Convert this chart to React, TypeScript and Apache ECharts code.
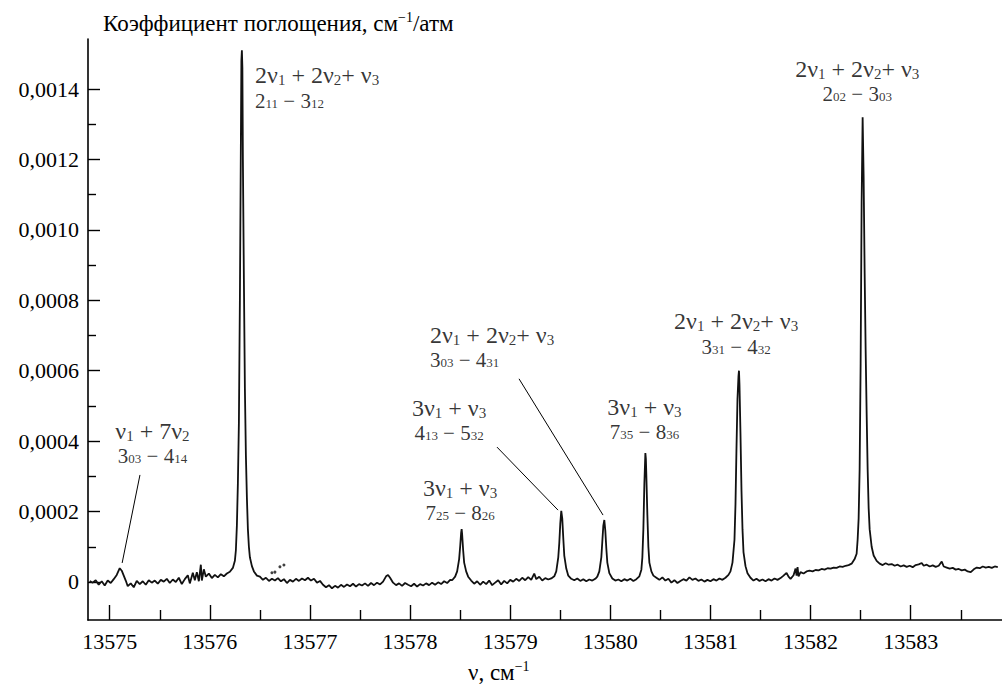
import React, { useEffect, useRef } from "react";
import * as echarts from "echarts";

// Absorption values are stored in units of 1e-5 (см⁻¹/атм); wavenumbers in см⁻¹.
const UNIT = 1e-5;

const segLeftBaseline: [number, number][] = [
  [13574.8, 0.3], [13574.83, -0.2], [13574.86, 0.5], [13574.89, -0.8], [13574.92, 0.2],
  [13574.95, -1.0], [13574.98, 0.4], [13575.01, -0.3], [13575.04, 0.8], [13575.07, 2.0],
  [13575.1, 3.9], [13575.12, 3.2], [13575.14, 1.8], [13575.16, 0.4], [13575.18, -1.2],
  [13575.21, -0.4], [13575.24, -1.5], [13575.27, 0.3], [13575.3, -0.6], [13575.33, 0.2],
  [13575.36, -0.8], [13575.39, 0.5], [13575.42, -0.2], [13575.45, 0.4], [13575.48, -0.5],
  [13575.51, 0.6], [13575.54, 0.1], [13575.57, 0.9], [13575.6, -0.3], [13575.63, 0.7],
  [13575.66, 0.0], [13575.69, 1.2], [13575.72, -0.6], [13575.75, 0.8], [13575.78, 1.9],
  [13575.8, -0.4], [13575.83, 2.6], [13575.85, 0.5], [13575.87, 2.8], [13575.89, 0.2],
  [13575.91, 4.9], [13575.92, 0.4], [13575.94, 3.6], [13575.96, 1.5], [13575.99, 2.4],
  [13576.02, 1.1], [13576.05, 2.0], [13576.08, 1.3], [13576.11, 2.2], [13576.14, 1.6],
  [13576.17, 2.4], [13576.2, 2.9],
];

const segPeak13576: [number, number][] = [
  [13576.23, 4], [13576.25, 6], [13576.26, 9], [13576.27, 16], [13576.28, 28],
  [13576.29, 45], [13576.3, 80], [13576.31, 125], [13576.315, 148], [13576.32, 151],
  [13576.325, 146], [13576.33, 120], [13576.34, 86], [13576.35, 55], [13576.36, 36],
  [13576.37, 24], [13576.38, 15], [13576.39, 10], [13576.4, 7], [13576.42, 4.5],
  [13576.44, 3], [13576.47, 1.8],
];

const segMiddleBaseline: [number, number][] = [
  [13576.5, 1.5], [13576.53, 0.6], [13576.56, 1.2], [13576.59, 0.3], [13576.62, 0.9],
  [13576.65, 0.4], [13576.68, 1.1], [13576.71, 0.2], [13576.74, 0.8], [13576.77, -0.3],
  [13576.8, 0.6], [13576.83, 0.1], [13576.86, 0.9], [13576.89, 0.3], [13576.92, 1.0],
  [13576.95, 0.5], [13576.98, 1.2], [13577.01, 0.4], [13577.04, 0.9], [13577.07, -0.2],
  [13577.1, 0.3], [13577.13, -0.8], [13577.16, -1.5], [13577.19, -0.9], [13577.22, -1.8],
  [13577.25, -1.1], [13577.28, -1.6], [13577.31, -0.8], [13577.34, -1.4], [13577.37, -0.7],
  [13577.4, -1.2], [13577.43, -0.5], [13577.46, -1.3], [13577.49, -0.6], [13577.52, -1.0],
  [13577.55, -0.4], [13577.58, -1.1], [13577.61, -0.3], [13577.64, -0.9], [13577.67, -0.2],
  [13577.7, -0.7], [13577.73, 0.1], [13577.76, 1.6], [13577.78, 2.0], [13577.8, 1.2],
  [13577.83, -0.2], [13577.86, -0.9], [13577.89, -0.4], [13577.92, -1.1], [13577.95, -0.3],
  [13577.98, -0.8], [13578.01, -1.2], [13578.04, -0.5], [13578.07, -1.3], [13578.1, -0.6],
  [13578.13, -1.0], [13578.16, -0.4], [13578.19, -0.9], [13578.22, -0.2], [13578.25, -0.8],
  [13578.28, -0.1], [13578.31, -0.6], [13578.34, 0.2], [13578.37, -0.3], [13578.4, 0.6],
];

const segPeak13578: [number, number][] = [
  [13578.42, 0.5], [13578.45, 1.5], [13578.47, 3], [13578.49, 6.5], [13578.5, 10],
  [13578.51, 14], [13578.515, 15], [13578.52, 13.5], [13578.53, 9], [13578.54, 5.5],
  [13578.56, 3], [13578.58, 1.5], [13578.61, 0.4], [13578.64, -0.5],
];

const segBaseline13579: [number, number][] = [
  [13578.67, 0.2], [13578.7, -0.8], [13578.73, 0.1], [13578.76, -0.6], [13578.79, 0.4],
  [13578.82, -0.9], [13578.85, -0.2], [13578.88, 0.5], [13578.91, -0.7], [13578.94, 0.3],
  [13578.97, -0.4], [13579.0, 0.6], [13579.03, 0.1], [13579.06, 0.9], [13579.09, 0.3],
  [13579.12, 1.2], [13579.15, 0.5], [13579.18, 1.4], [13579.21, 0.6], [13579.24, 2.4],
  [13579.26, 0.8], [13579.29, 1.5], [13579.32, 0.4], [13579.35, 1.1], [13579.38, 0.7],
  [13579.41, 1.0], [13579.44, 1.6],
];

const segPeaks13579_13580: [number, number][] = [
  [13579.46, 3], [13579.48, 7], [13579.49, 11], [13579.5, 16.5], [13579.51, 20.2],
  [13579.52, 18], [13579.53, 12.5], [13579.54, 7.5], [13579.56, 3.8], [13579.58, 1.8],
  [13579.61, 0.9], [13579.64, 0.5], [13579.67, 1.0], [13579.7, 0.3], [13579.73, 0.8],
  [13579.76, 0.2], [13579.79, 0.7], [13579.82, 0.4], [13579.85, 0.9], [13579.87, 1.5],
  [13579.89, 3], [13579.91, 7], [13579.92, 11.5], [13579.93, 16], [13579.94, 17.6],
  [13579.95, 14.5], [13579.96, 9.5], [13579.97, 5.5], [13579.99, 2.5], [13580.02, 1.0],
  [13580.05, 0.4], [13580.08, 0.7], [13580.11, 0.2], [13580.14, 0.8], [13580.17, 0.4],
  [13580.2, 0.9], [13580.23, 0.3], [13580.26, 0.8], [13580.29, 1.6],
  [13580.31, 3.5], [13580.32, 7], [13580.33, 15], [13580.34, 28], [13580.35, 36.6],
  [13580.355, 35], [13580.36, 30], [13580.37, 19], [13580.38, 10], [13580.39, 5.5],
  [13580.41, 3], [13580.43, 1.8], [13580.46, 1.2],
];

const segBaseline13581: [number, number][] = [
  [13580.49, 0.6], [13580.52, 1.3], [13580.55, 0.4], [13580.58, 0.9], [13580.61, -0.2],
  [13580.64, 0.5], [13580.67, -0.3], [13580.7, 0.3], [13580.73, 0.8], [13580.76, 0.4],
  [13580.79, 1.3], [13580.82, 0.6], [13580.85, 1.0], [13580.88, 0.3], [13580.91, 0.7],
  [13580.94, 0.1], [13580.97, 0.6], [13581.0, 0.2], [13581.03, 0.8], [13581.06, 0.4],
  [13581.09, 1.0], [13581.12, 0.6], [13581.15, 1.2], [13581.18, 2.0],
];

const segPeak13581: [number, number][] = [
  [13581.2, 3], [13581.22, 5.5], [13581.24, 12], [13581.25, 22], [13581.26, 38],
  [13581.27, 52], [13581.28, 58.5], [13581.285, 60], [13581.29, 56], [13581.3, 42],
  [13581.31, 26], [13581.32, 15], [13581.33, 8.5], [13581.35, 4.5], [13581.37, 2.5],
  [13581.4, 1.2],
];

const segBaseline13582: [number, number][] = [
  [13581.43, 0.4], [13581.46, 0.9], [13581.49, 0.3], [13581.52, 0.7], [13581.55, 0.2],
  [13581.58, 0.8], [13581.61, 0.4], [13581.64, 1.0], [13581.67, 0.6], [13581.7, 1.1],
  [13581.73, 1.8], [13581.76, 2.6], [13581.78, 1.5], [13581.8, 0.9], [13581.83, 1.9],
  [13581.85, 3.8], [13581.86, 1.8], [13581.87, 4.2], [13581.88, 1.6], [13581.9, 2.8],
  [13581.93, 2.4], [13581.96, 3.0], [13581.99, 3.2], [13582.02, 3.0], [13582.05, 3.4],
  [13582.08, 3.3], [13582.11, 3.7], [13582.14, 3.5], [13582.17, 3.9], [13582.2, 3.8],
  [13582.23, 4.1], [13582.26, 4.0], [13582.29, 4.4], [13582.32, 4.3], [13582.35, 4.6],
  [13582.38, 4.8], [13582.41, 5.2], [13582.44, 6.5],
];

const segPeak13582: [number, number][] = [
  [13582.46, 8], [13582.47, 12], [13582.48, 18], [13582.49, 32], [13582.5, 62],
  [13582.51, 108], [13582.52, 132], [13582.53, 115], [13582.54, 88], [13582.55, 66],
  [13582.56, 48], [13582.57, 32], [13582.58, 21], [13582.59, 15], [13582.61, 10],
  [13582.63, 7.5], [13582.66, 6],
];

const segRightBaseline: [number, number][] = [
  [13582.69, 5.2], [13582.72, 4.8], [13582.75, 5.3], [13582.78, 4.9], [13582.81, 5.1],
  [13582.84, 4.6], [13582.87, 4.9], [13582.9, 4.4], [13582.93, 4.7], [13582.96, 4.3],
  [13582.99, 4.6], [13583.02, 4.2], [13583.05, 4.8], [13583.08, 5.0], [13583.11, 5.4],
  [13583.13, 4.6], [13583.16, 4.9], [13583.19, 4.4], [13583.22, 4.7], [13583.25, 4.3],
  [13583.28, 4.6], [13583.31, 5.8], [13583.33, 4.4], [13583.36, 4.1], [13583.39, 3.8],
  [13583.42, 4.0], [13583.45, 3.5], [13583.48, 3.7], [13583.51, 3.3], [13583.54, 3.5],
  [13583.57, 3.0], [13583.6, 2.8], [13583.63, 3.6], [13583.66, 4.1], [13583.69, 3.9],
  [13583.72, 4.4], [13583.75, 4.1], [13583.78, 4.3], [13583.81, 4.0], [13583.84, 4.4],
  [13583.87, 4.2],
];

// isolated recorder dots after the strong line
const strayDots: [number, number][] = [
  [13576.62, 2.6], [13576.65, 2.8], [13576.7, 4.3], [13576.74, 4.8],
];

// axis ticks
const xMajorTicks = [13575, 13576, 13577, 13578, 13579, 13580, 13581, 13582, 13583];
const xMinorTicks = [13575.5, 13576.5, 13577.5, 13578.5, 13579.5, 13580.5, 13581.5, 13582.5, 13583.5];
const yMajorTicks = [0, 0.0002, 0.0004, 0.0006, 0.0008, 0.001, 0.0012, 0.0014];
const yMinorTicks = [0.0001, 0.0003, 0.0005, 0.0007, 0.0009, 0.0011, 0.0013];

const X_MIN = 13574.783;
const X_MAX = 13583.912;
const Y_MIN = -0.000108;
const Y_MAX = 0.001542;

// line assignments: anchor [ν, value×1e-5], alignment, band, transition
const labelAnchors: [number, number][] = [
  [13575.427, 39.5], [13576.452, 140.5], [13578.499, 23.3], [13578.389, 46.0],
  [13578.199, 66.8], [13580.341, 46.3], [13581.256, 70.6], [13582.466, 142.4],
];
const labelAlign = ["center", "left", "center", "center", "left", "center", "center", "center"];
const bandParts: [string, string][][] = [
  [["ν", "1"], [" + 7ν", "2"]],
  [["2ν", "1"], [" + 2ν", "2"], ["+ ν", "3"]],
  [["3ν", "1"], [" + ν", "3"]],
  [["3ν", "1"], [" + ν", "3"]],
  [["2ν", "1"], [" + 2ν", "2"], ["+ ν", "3"]],
  [["3ν", "1"], [" + ν", "3"]],
  [["2ν", "1"], [" + 2ν", "2"], ["+ ν", "3"]],
  [["2ν", "1"], [" + 2ν", "2"], ["+ ν", "3"]],
];
const transitionParts: [string, string][][] = [
  [["3", "03"], [" − 4", "14"]],
  [["2", "11"], [" − 3", "12"]],
  [["7", "25"], [" − 8", "26"]],
  [["4", "13"], [" − 5", "32"]],
  [["3", "03"], [" − 4", "31"]],
  [["7", "35"], [" − 8", "36"]],
  [["3", "31"], [" − 4", "32"]],
  [["2", "02"], [" − 3", "03"]],
];

// arrows from a label to its weak line: [from, to] in [ν, value×1e-5]
const arrowLines: [[number, number], [number, number]][] = [
  [[13575.302, 30.4], [13575.124, 5.4]],
  [[13578.868, 38.3], [13579.478, 20.4]],
  [[13579.088, 57.7], [13579.927, 19.0]],
];

const FONT = "Liberation Serif";
const INK = "#000";

function richLine(parts: [string, string][], main: string, sub: string) {
  return parts.map(([t, s]) => `{${main}|${t}}{${sub}|${s}}`).join("");
}

export default function App() {
  const ref = useRef<HTMLDivElement>(null);

  useEffect(() => {
    document.body.style.margin = "0";
    if (!ref.current) return;
    const chart = echarts.init(ref.current, undefined, { renderer: "svg" });

    const spectrum = [
      ...segLeftBaseline, ...segPeak13576, ...segMiddleBaseline, ...segPeak13578,
      ...segBaseline13579, ...segPeaks13579_13580, ...segBaseline13581, ...segPeak13581,
      ...segBaseline13582, ...segPeak13582, ...segRightBaseline,
    ].map(([x, v]) => [x, v * UNIT]);

    const rich = {
      a: { color: INK, fontSize: 24, lineHeight: 27 },
      as: { color: INK, fontSize: 15, lineHeight: 15, padding: [10, 0, 0, 0] },
      b: { color: INK, fontSize: 21, lineHeight: 24 },
      bs: { color: INK, fontSize: 13, lineHeight: 13, padding: [5, 0, 0, 0] },
      t: { color: INK, fontSize: 23, lineHeight: 26 },
      sup: { color: INK, fontSize: 14, lineHeight: 14, padding: [0, 0, 12, 0] },
    };

    const annotations = labelAnchors.map(([x, v], i) => {
      const left = labelAlign[i] === "left";
      return {
        value: [x, v * UNIT],
        label: {
          show: true,
          position: left ? "right" : "inside",
          distance: 0,
          align: left ? "left" : "center",
          verticalAlign: "middle",
          color: INK,
          formatter:
            richLine(bandParts[i], "a", "as") + "\n" + richLine(transitionParts[i], "b", "bs"),
          rich,
        },
      };
    });

    const axisLineStyle = { color: INK, width: 1.6 };
    const tickStyle = { color: INK, width: 1.4 };

    chart.setOption({
      animation: false,
      textStyle: { fontFamily: FONT },
      title: [
        {
          text: "{t|Коэффициент поглощения, см}{sup|−1}{t|/атм}",
          left: 103,
          top: 10,
          padding: 0,
          textStyle: { fontWeight: "normal", fontSize: 23, color: INK, rich },
        },
        {
          text: "{t|ν, см}{sup|−1}",
          left: 468,
          top: 659,
          padding: 0,
          textStyle: { fontWeight: "normal", fontSize: 23, color: INK, rich },
        },
      ],
      grid: [
        { left: 88, right: 0, top: 39, bottom: 71 },
        { left: 88, right: 0, top: 39, bottom: 71 },
      ],
      xAxis: [
        {
          type: "value",
          gridIndex: 0,
          min: X_MIN,
          max: X_MAX,
          axisLine: { show: true, onZero: false, lineStyle: axisLineStyle },
          axisTick: { show: true, inside: true, length: 15, customValues: xMajorTicks, lineStyle: tickStyle },
          axisLabel: {
            customValues: xMajorTicks,
            formatter: (v: number) => String(Math.round(v)),
            margin: 10,
            color: INK,
            fontSize: 22,
          },
          splitLine: { show: false },
        },
        {
          type: "value",
          gridIndex: 1,
          min: X_MIN,
          max: X_MAX,
          axisLine: { show: false, onZero: false },
          axisTick: { show: true, inside: true, length: 10, customValues: xMinorTicks, lineStyle: tickStyle },
          axisLabel: { show: false },
          splitLine: { show: false },
        },
      ],
      yAxis: [
        {
          type: "value",
          gridIndex: 0,
          min: Y_MIN,
          max: Y_MAX,
          axisLine: { show: true, onZero: false, lineStyle: axisLineStyle },
          axisTick: { show: true, inside: true, length: 12, customValues: yMajorTicks, lineStyle: tickStyle },
          axisLabel: {
            customValues: yMajorTicks,
            formatter: (v: number) => (v === 0 ? "0" : v.toFixed(4).replace(".", ",")),
            margin: 9,
            color: INK,
            fontSize: 22,
          },
          splitLine: { show: false },
        },
        {
          type: "value",
          gridIndex: 1,
          min: Y_MIN,
          max: Y_MAX,
          axisLine: { show: false, onZero: false },
          axisTick: { show: true, inside: true, length: 8, customValues: yMinorTicks, lineStyle: tickStyle },
          axisLabel: { show: false },
          splitLine: { show: false },
        },
      ],
      series: [
        {
          type: "line",
          xAxisIndex: 0,
          yAxisIndex: 0,
          data: spectrum,
          showSymbol: false,
          symbol: "none",
          lineStyle: { color: "#111", width: 1.8 },
          clip: true,
          z: 3,
        },
        {
          type: "scatter",
          xAxisIndex: 0,
          yAxisIndex: 0,
          data: strayDots.map(([x, v]) => [x, v * UNIT]),
          symbolSize: 3,
          itemStyle: { color: "#111" },
          z: 3,
        },
        {
          type: "scatter",
          xAxisIndex: 0,
          yAxisIndex: 0,
          data: annotations,
          symbolSize: 0,
          itemStyle: { color: "transparent" },
          z: 4,
          markLine: {
            silent: true,
            symbol: ["none", "arrow"],
            symbolSize: [0, 9],
            label: { show: false },
            lineStyle: { color: INK, width: 1, type: "solid" },
            data: arrowLines.map(([a, b]) => [
              { coord: [a[0], a[1] * UNIT] },
              { coord: [b[0], b[1] * UNIT] },
            ]),
          },
        },
      ],
    });

    return () => chart.dispose();
  }, []);

  return <div ref={ref} style={{ width: 1002, height: 691 }} />;
}
